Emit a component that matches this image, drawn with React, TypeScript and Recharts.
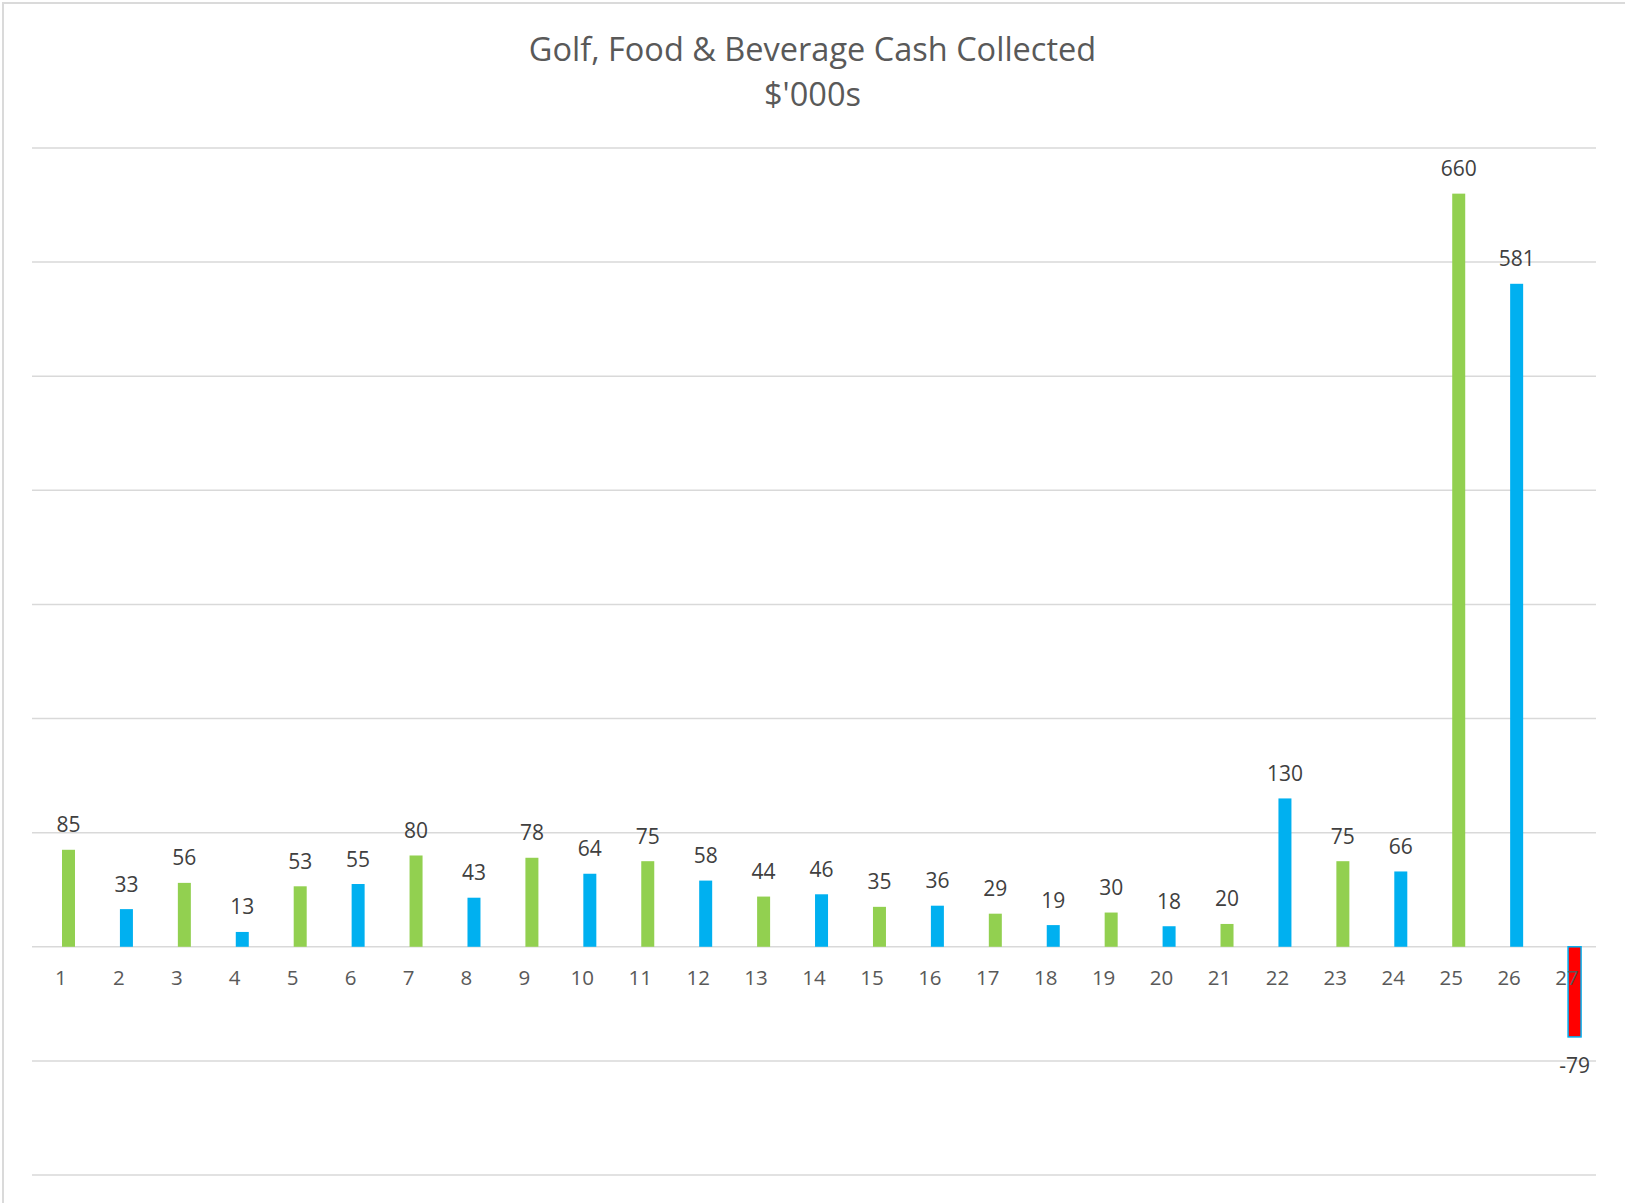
import React from "react";
import { BarChart, Bar, XAxis, YAxis, CartesianGrid, LabelList } from "recharts";

// weekly cash collected, $'000s
const periods = [
  "1", "2", "3", "4", "5", "6", "7", "8", "9", "10", "11", "12", "13", "14",
  "15", "16", "17", "18", "19", "20", "21", "22", "23", "24", "25", "26", "27",
];
const cashCollected = [
  85, 33, 56, 13, 53, 55, 80, 43, 78, 64, 75, 58, 44, 46,
  35, 36, 29, 19, 30, 18, 20, 130, 75, 66, 660, 581, -79,
];
const yTicks = [-200, -100, 0, 100, 200, 300, 400, 500, 600, 700];

const data = periods.map((period, i) => ({ period, cash: cashCollected[i] }));

const W = 1625;
const H = 1203;
const MARGIN = { top: 148, right: 29, left: 32, bottom: 0 };
const X_AXIS_H = 28;
const Y_MIN = yTicks[0];
const Y_MAX = yTicks[yTicks.length - 1];
const PLOT_H = H - MARGIN.top - MARGIN.bottom - X_AXIS_H;
// category labels sit on the zero line, not at the bottom of the plot
const ZERO_Y = MARGIN.top + (PLOT_H * Y_MAX) / (Y_MAX - Y_MIN);
const BAR_SHIFT = 8;

const GREEN = "#92D050";
const BLUE = "#00B0F0";
const RED = "#FF0000";
const FONT = "'Open Sans', sans-serif";

const barFill = (i: number, v: number) => (v < 0 ? RED : i % 2 === 0 ? GREEN : BLUE);

const BarShape = (props: any) => {
  const { x, y, width, height, index, payload } = props;
  const top = Math.min(y, y + height);
  const h = Math.abs(height);
  const neg = payload.cash < 0;
  return (
    <rect
      x={x + BAR_SHIFT}
      y={top}
      width={width}
      height={h}
      fill={barFill(index, payload.cash)}
      stroke={neg ? BLUE : "none"}
      strokeWidth={neg ? 1.5 : 0}
    />
  );
};

const ValueLabel = (props: any) => {
  const { x, y, width, height, value } = props;
  const top = Math.min(y, y + height);
  const bottom = Math.max(y, y + height);
  const cx = x + width / 2 + BAR_SHIFT;
  const ty = value >= 0 ? top - 17.5 : bottom + 36;
  return (
    <text x={cx} y={ty} textAnchor="middle" fontFamily={FONT} fontSize={21} fill="#404040">
      {value}
    </text>
  );
};

const PeriodTick = (props: any) => {
  const { x, payload } = props;
  return (
    <text x={x} y={ZERO_Y + 38.5} textAnchor="middle" fontFamily={FONT} fontSize={20.5} fill="#595959">
      {payload.value}
    </text>
  );
};

export default function App() {
  return (
    <div
      style={{
        position: "absolute",
        left: 0,
        top: 0,
        width: W,
        height: H,
        overflow: "hidden",
        background: "#fff",
      }}
    >
      <div
        style={{
          position: "absolute",
          left: 2,
          top: 2,
          width: W + 100,
          height: H + 100,
          borderLeft: "2px solid #dadada",
          borderTop: "2px solid #dadada",
        }}
      />
      <div
        style={{
          position: "absolute",
          left: 0,
          top: 25.5,
          width: W,
          textAlign: "center",
          fontFamily: FONT,
          fontSize: 32.5,
          lineHeight: "45px",
          color: "#595959",
        }}
      >
        Golf, Food &amp; Beverage Cash Collected
        <br />
        $'000s
      </div>
      <div style={{ position: "absolute", left: 0, top: 0 }}>
        <BarChart width={W} height={H} data={data} margin={MARGIN}>
          <CartesianGrid vertical={false} stroke="#d9d9d9" strokeWidth={1.5} />
          <XAxis
            dataKey="period"
            height={X_AXIS_H}
            axisLine={false}
            tickLine={false}
            interval={0}
            tick={<PeriodTick />}
          />
          <YAxis hide domain={[Y_MIN, Y_MAX]} ticks={yTicks} />
          <Bar dataKey="cash" barSize={13} shape={<BarShape />} isAnimationActive={false}>
            <LabelList dataKey="cash" content={<ValueLabel />} />
          </Bar>
        </BarChart>
      </div>
    </div>
  );
}
